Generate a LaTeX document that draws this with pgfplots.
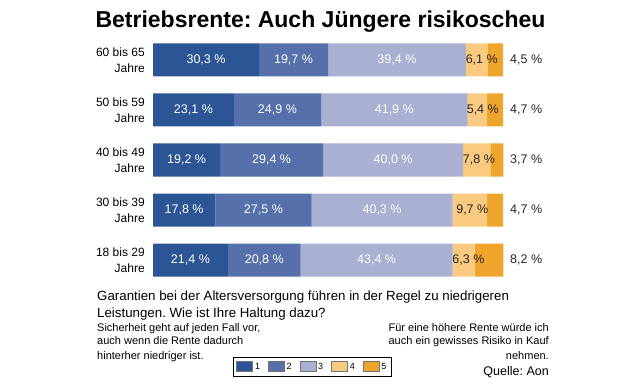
\documentclass[border=0pt]{standalone}
\usepackage{pgfplots}
\pgfplotsset{compat=1.18}
\usepackage{fontspec}
\setmainfont{Liberation Sans}
\frenchspacing
\definecolor{c1}{HTML}{2C5595}
\definecolor{c2}{HTML}{5670AB}
\definecolor{c3}{HTML}{A9B0D1}
\definecolor{c4}{HTML}{F9CA7F}
\definecolor{c5}{HTML}{EFA42B}
\tikzset{
  rowlab/.style={anchor=east, align=right, font=\fontsize{12}{16}\selectfont, inner sep=0pt},
  seglab/.style={font=\fontsize{12.5}{15}\selectfont, text=white, inner sep=0pt},
  darklab/.style={font=\fontsize{12.5}{15}\selectfont, text=black!85, anchor=west, inner sep=0pt},
}
\begin{document}
\begin{tikzpicture}[x=1pt,y=1pt]
\useasboundingbox (0,0) rectangle (621,383);
\node[anchor=base,font=\fontsize{23}{26}\selectfont\bfseries,inner sep=0] at (320.5,355.5) {Betriebsrente: Auch Jüngere risikoscheu};
\begin{axis}[
  at={(153pt,98pt)}, anchor=south west,
  width=350pt, height=250pt, scale only axis,
  xmin=0, xmax=100, ymin=0.5, ymax=5.5,
  hide axis, clip=false,
  xbar stacked, bar width=33pt,
  legend columns=5,
  legend style={at={(0.2286,-0.288)}, anchor=north west, draw=black, line width=0.8pt,
    font=\fontsize{9}{10}\selectfont, inner xsep=3pt, inner ysep=3.5pt,
    /tikz/every even column/.append style={column sep=6pt}},
  legend image code/.code={\filldraw[#1, draw=black!55, line width=0.6pt] (0pt,-4.5pt) rectangle (16pt,5pt);},
]
\addplot[fill=c1, draw=none] coordinates {(30.3,5) (23.1,4) (19.2,3) (17.8,2) (21.4,1)};
\addplot[fill=c2, draw=none] coordinates {(19.7,5) (24.9,4) (29.4,3) (27.5,2) (20.8,1)};
\addplot[fill=c3, draw=none] coordinates {(39.4,5) (41.9,4) (40.0,3) (40.3,2) (43.4,1)};
\addplot[fill=c4, draw=none] coordinates {(6.1,5) (5.4,4) (7.8,3) (9.7,2) (6.3,1)};
\addplot[fill=c5, draw=none] coordinates {(4.5,5) (4.7,4) (3.7,3) (4.7,2) (8.2,1)};
\legend{1,2,3,4,5}
\node[rowlab] at (axis cs:-2.3,5) {60 bis 65\\Jahre};
\node[rowlab] at (axis cs:-2.3,4) {50 bis 59\\Jahre};
\node[rowlab] at (axis cs:-2.3,3) {40 bis 49\\Jahre};
\node[rowlab] at (axis cs:-2.3,2) {30 bis 39\\Jahre};
\node[rowlab] at (axis cs:-2.3,1) {18 bis 29\\Jahre};
\coordinate (a51) at (axis cs:15.15,5);
\coordinate (a52) at (axis cs:40.15,5);
\coordinate (a53) at (axis cs:69.7,5);
\coordinate (a41) at (axis cs:11.55,4);
\coordinate (a42) at (axis cs:35.55,4);
\coordinate (a43) at (axis cs:68.95,4);
\coordinate (a31) at (axis cs:9.6,3);
\coordinate (a32) at (axis cs:33.9,3);
\coordinate (a33) at (axis cs:68.6,3);
\coordinate (a21) at (axis cs:8.9,2);
\coordinate (a22) at (axis cs:31.55,2);
\coordinate (a23) at (axis cs:65.45,2);
\coordinate (a11) at (axis cs:10.7,1);
\coordinate (a12) at (axis cs:31.8,1);
\coordinate (a13) at (axis cs:63.9,1);
\coordinate (a54) at (axis cs:89.3,5);
\coordinate (a44) at (axis cs:89.6,4);
\coordinate (a34) at (axis cs:88.5,3);
\coordinate (a24) at (axis cs:86.6,2);
\coordinate (a14) at (axis cs:85.5,1);
\node[darklab] at (axis cs:102,5) {4,5 \%};
\node[darklab] at (axis cs:102,4) {4,7 \%};
\node[darklab] at (axis cs:102,3) {3,7 \%};
\node[darklab] at (axis cs:102,2) {4,7 \%};
\node[darklab] at (axis cs:102,1) {8,2 \%};
\end{axis}
\node[seglab] at (a51) {30,3 \%};
\node[seglab] at (a52) {19,7 \%};
\node[seglab] at (a53) {39,4 \%};
\node[seglab] at (a41) {23,1 \%};
\node[seglab] at (a42) {24,9 \%};
\node[seglab] at (a43) {41,9 \%};
\node[seglab] at (a31) {19,2 \%};
\node[seglab] at (a32) {29,4 \%};
\node[seglab] at (a33) {40,0 \%};
\node[seglab] at (a21) {17,8 \%};
\node[seglab] at (a22) {27,5 \%};
\node[seglab] at (a23) {40,3 \%};
\node[seglab] at (a11) {21,4 \%};
\node[seglab] at (a12) {20,8 \%};
\node[seglab] at (a13) {43,4 \%};
\node[darklab] at (a54) {6,1 \%};
\node[darklab] at (a44) {5,4 \%};
\node[darklab] at (a34) {7,8 \%};
\node[darklab] at (a24) {9,7 \%};
\node[darklab] at (a14) {6,3 \%};
\begin{scope}[every node/.style={anchor=base west, inner sep=0pt, font=\fontsize{13.3}{16}\selectfont}]
\node at (97,82) {Garantien bei der Altersversorgung führen in der Regel zu niedrigeren};
\node at (97,66) {Leistungen. Wie ist Ihre Haltung dazu?};
\end{scope}
\begin{scope}[every node/.style={anchor=base west, inner sep=0pt, font=\fontsize{11}{14}\selectfont}]
\node at (97,52) {Sicherheit geht auf jeden Fall vor,};
\node at (97,38) {auch wenn die Rente dadurch};
\node at (97,24) {hinterher niedriger ist.};
\end{scope}
\begin{scope}[every node/.style={anchor=base east, inner sep=0pt, font=\fontsize{11}{14}\selectfont}]
\node at (549,52) {Für eine höhere Rente würde ich};
\node at (549,38) {auch ein gewisses Risiko in Kauf};
\node at (549,24) {nehmen.};
\node[font=\fontsize{12.5}{15}\selectfont] at (549,8) {Quelle: Aon};
\end{scope}
\end{tikzpicture}
\end{document}
